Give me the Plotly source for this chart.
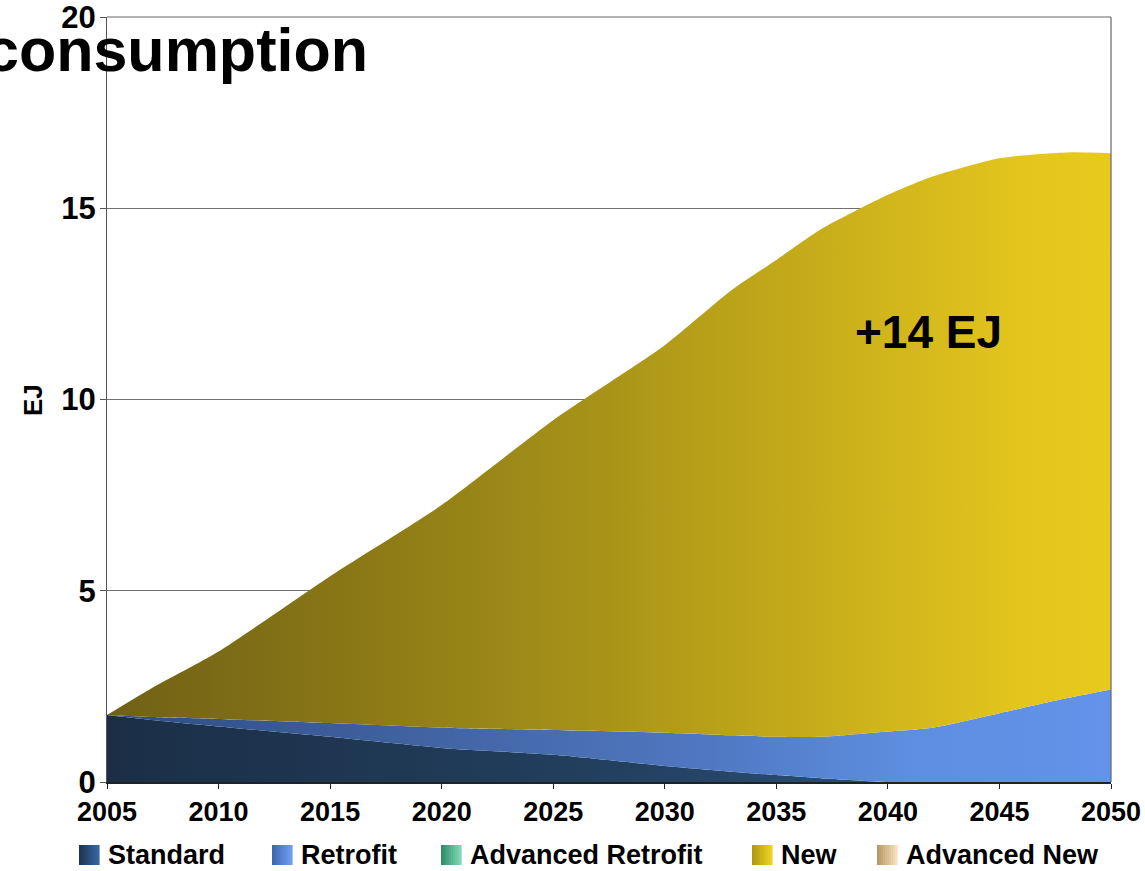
import plotly.graph_objects as go

# ---- data (EJ) ----
years = [2005, 2007, 2010, 2015, 2020, 2025, 2030, 2033, 2035, 2037, 2040, 2042, 2045, 2048, 2050]
standard = [1.75, 1.62, 1.45, 1.18, 0.89, 0.71, 0.42, 0.27, 0.18, 0.10, 0.0, 0.0, 0.0, 0.0, 0.0]
retrofit = [0.0, 0.08, 0.20, 0.36, 0.53, 0.65, 0.87, 0.95, 1.00, 1.08, 1.32, 1.42, 1.80, 2.19, 2.42]
advanced_retrofit = [0.0] * 15
new = [0.0, 0.75, 1.76, 3.84, 5.82, 8.10, 10.13, 11.64, 12.47, 13.27, 14.03, 14.41, 14.51, 14.27, 14.02]
advanced_new = [0.0] * 15

series_names = ["Standard", "Retrofit", "Advanced Retrofit", "New", "Advanced New"]
series_values = [standard, retrofit, advanced_retrofit, new, advanced_new]
x_ticks = [2005, 2010, 2015, 2020, 2025, 2030, 2035, 2040, 2045, 2050]
y_ticks = [0, 5, 10, 15, 20]

gradients = {
    "Standard": [[0, "#1b2e46"], [0.5, "#22405f"], [1, "#2d5a88"]],
    "Retrofit": [[0, "#2f4d85"], [0.3, "#4062a0"], [0.6, "#5078c2"], [0.8, "#5e8ee0"], [1, "#6393ea"]],
    "Advanced Retrofit": [[0, "#3a9a78"], [1, "#70d0a8"]],
    "New": [[0, "#6f6016"], [0.25, "#8a7816"], [0.5, "#a99418"], [0.75, "#cdb21b"], [0.9, "#e2c41d"], [1, "#e8ca1e"]],
    "Advanced New": [[0, "#c0a070"], [1, "#f8e0b8"]],
}
legend_squares = {
    "Standard": ("#1d3552", "#3566a0"),
    "Retrofit": ("#3f66b0", "#6f9cf0"),
    "Advanced Retrofit": ("#2f8e6c", "#7ed6b0"),
    "New": ("#b09a10", "#ecd224"),
    "Advanced New": ("#b8986a", "#f6dfba"),
}

def hex2rgb(h):
    h = h.lstrip("#")
    return tuple(int(h[i:i + 2], 16) for i in (0, 2, 4))

def mix(c1, c2, t):
    a, b = hex2rgb(c1), hex2rgb(c2)
    return "rgb(%d,%d,%d)" % tuple(round(a[i] + (b[i] - a[i]) * t) for i in range(3))

fig = go.Figure()
for name, vals in zip(series_names, series_values):
    fig.add_trace(go.Scatter(
        x=years, y=vals, name=name, stackgroup="one", mode="lines",
        line=dict(width=0, shape="spline", smoothing=0.6),
        fillgradient=dict(type="horizontal", colorscale=gradients[name], start=2005, stop=2050),
        showlegend=False,
    ))

# geometry helpers (pixel -> paper)
L, R, T, B = 107, 1111, 17, 782
def px(x):
    return (x - L) / (R - L)
def py(y):
    return (B - y) / (B - T)

FONT = "Liberation Sans, Arial"
annotations = [
    dict(text="<b>consumption</b>", x=px(370), y=py(50), xref="paper", yref="paper",
         xanchor="right", yanchor="middle", showarrow=False,
         font=dict(family=FONT, size=61, color="black")),
    dict(text="<b>+14 EJ</b>", x=px(928), y=py(332), xref="paper", yref="paper",
         xanchor="center", yanchor="middle", showarrow=False,
         font=dict(family=FONT, size=46, color="black")),
    dict(text="<b>EJ</b>", x=px(33), y=py(400), xref="paper", yref="paper",
         xanchor="center", yanchor="middle", showarrow=False, textangle=-90,
         font=dict(family=FONT, size=26, color="black")),
]

# manual legend
shapes = []
leg_x = {"Standard": 79, "Retrofit": 272, "Advanced Retrofit": 441, "New": 752, "Advanced New": 877}
N = 10
for name in series_names:
    x0 = leg_x[name]
    c1, c2 = legend_squares[name]
    w = 20 / N
    for i in range(N):
        shapes.append(dict(type="rect", xref="paper", yref="paper",
                           x0=px(x0 + i * w), x1=px(x0 + (i + 1) * w + 0.6),
                           y0=py(845), y1=py(865), line=dict(width=0),
                           fillcolor=mix(c1, c2, i / (N - 1)), layer="above"))
    annotations.append(dict(text="<b>%s</b>" % name, x=px(x0 + 27), y=py(855), xref="paper", yref="paper",
                            xanchor="left", yanchor="middle", showarrow=False,
                            font=dict(family=FONT, size=27, color="black")))

# top and right plot borders
shapes.append(dict(type="line", xref="paper", yref="paper", x0=0, x1=1, y0=1, y1=1,
                   line=dict(color="#666", width=1.2), layer="below"))
shapes.append(dict(type="line", xref="paper", yref="paper", x0=1, x1=1, y0=0, y1=1,
                   line=dict(color="#666", width=1.2)))

fig.update_layout(
    width=1145, height=871,
    margin=dict(l=L, r=1145 - R, t=T, b=871 - B, autoexpand=False),
    paper_bgcolor="white", plot_bgcolor="white",
    showlegend=False,
    annotations=annotations,
    shapes=shapes,
    xaxis=dict(range=[2005, 2050], tickvals=x_ticks, ticktext=["<b>%d</b>" % t for t in x_ticks],
               showgrid=False, zeroline=False, automargin=False,
               showline=True, linecolor="#222", linewidth=1.5,
               ticks="outside", ticklen=5, tickcolor="#222",
               tickfont=dict(family=FONT, size=27, color="black"),
               ticklabeloverflow="allow",
               fixedrange=True),
    yaxis=dict(range=[0, 20], tickvals=y_ticks, ticktext=["<b>%d</b>" % t for t in y_ticks],
               showgrid=True, gridcolor="#707070", gridwidth=1, zeroline=False, automargin=False,
               showline=True, linecolor="#555", linewidth=1.2,
               ticks="outside", ticklen=6, tickcolor="#555",
               tickfont=dict(family=FONT, size=31, color="black"),
               ticklabelstandoff=-2, ticklabeloverflow="allow",
               fixedrange=True),
)

fig.write_html("out.html", config={"displayModeBar": False},
               post_script="document.body.style.margin='0';document.body.style.overflow='hidden';")
